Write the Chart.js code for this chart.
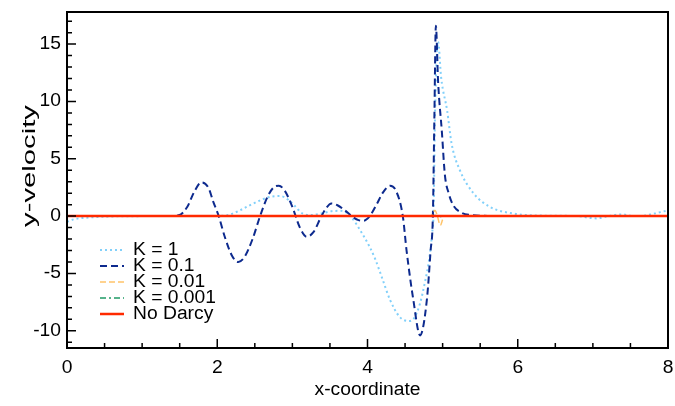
<!DOCTYPE html>
<html>
<head>
<meta charset="utf-8">
<script src="https://cdn.jsdelivr.net/npm/chart.js@4.4.0/dist/chart.umd.min.js"></script>
<style>
  html, body { margin: 0; padding: 0; background: #ffffff; }
  #wrap { width: 675px; height: 406px; }
</style>
</head>
<body>
<div id="wrap"><canvas id="c" width="675" height="406"></canvas></div>
<script>
// y-velocity profiles along the x-coordinate for each permeability K
const xK1 = [0, 0.1, 0.3, 0.6, 1.0, 2.0, 2.15, 2.3, 2.45, 2.6, 2.72, 2.84, 2.95, 3.03, 3.13, 3.25, 3.4, 3.55, 3.64, 3.72, 3.81, 3.9, 4.03, 4.1, 4.2, 4.3, 4.43, 4.55, 4.62, 4.7, 4.76, 4.82, 4.86, 4.88, 4.9, 4.94, 4.98, 5.06, 5.12, 5.23, 5.41, 5.63, 5.94, 6.3, 6.8, 6.95, 7.05, 7.2, 7.38, 7.55, 7.7, 7.8, 7.9, 8.0];
const yK1 = [-0.5, -0.26, -0.12, -0.03, 0, 0.02, 0.1, 0.5, 1.0, 1.45, 1.7, 1.75, 1.4, 0.9, 0.25, 0.1, 0.25, 0.45, 0.46, 0.3, -0.3, -1.2, -2.7, -3.7, -5.5, -7.3, -8.8, -9.15, -8.9, -7.6, -5.9, -3.8, -1.5, 0.5, 9.2, 15.2, 12.1, 9.2, 6.3, 4.0, 2.0, 0.8, 0.23, 0.05, 0, -0.15, -0.2, 0, 0.15, 0, 0.05, 0.2, 0.35, 0.5];

const xK01 = [0, 1.0, 1.4, 1.5, 1.6, 1.7, 1.79, 1.88, 1.95, 2.02, 2.1, 2.2, 2.28, 2.36, 2.47, 2.57, 2.67, 2.75, 2.82, 2.9, 3.0, 3.1, 3.19, 3.28, 3.38, 3.45, 3.52, 3.6, 3.7, 3.79, 3.88, 3.95, 4.03, 4.12, 4.2, 4.3, 4.38, 4.47, 4.52, 4.61, 4.7, 4.79, 4.84, 4.87, 4.89, 4.91, 4.94, 4.99, 5.03, 5.08, 5.14, 5.25, 5.37, 5.6, 6.0, 8.0];
const yK01 = [0, 0, 0.02, 0.1, 0.8, 2.2, 2.95, 2.5, 1.2, 0, -1.8, -3.5, -4.0, -3.6, -2.0, 0, 1.7, 2.5, 2.65, 2.2, 0.8, -1.0, -1.8, -1.4, -0.1, 0.7, 1.1, 0.95, 0.5, 0, -0.35, -0.4, 0, 1.0, 2.0, 2.65, 2.2, 0, -3.0, -7.3, -10.4, -7.3, -3.0, 0, 8.5, 16.6, 11.7, 7.35, 3.6, 2.0, 0.96, 0.3, 0.1, 0.02, 0, 0];

const xK001 = [0, 4.8, 4.85, 4.88, 4.9, 4.93, 4.97, 5.0, 5.02, 8.0];
const yK001 = [0, 0, 0.05, 0.4, 0.5, 0.0, -0.8, -0.3, 0, 0];

const xK0001 = [0, 4.85, 4.9, 4.95, 5.0, 8.0];
const yK0001 = [0, 0, 0.05, -0.05, 0, 0];

const xNoDarcy = [0, 8];
const yNoDarcy = [0, 0];

const seriesLabels = ['K = 1', 'K = 0.1', 'K = 0.01', 'K = 0.001', 'No Darcy'];

// axis ticks
const xMajorTicks = [0, 2, 4, 6, 8];
const xTickLabels = ['0', '2', '4', '6', '8'];
const xMinorTicks = [0.5, 1, 1.5, 2.5, 3, 3.5, 4.5, 5, 5.5, 6.5, 7, 7.5];
const yMajorTicks = [-10, -5, 0, 5, 10, 15];
const yTickLabels = ['-10', '-5', '0', '5', '10', '15'];
const yMinorTicks = [-11, -9, -8, -7, -6, -4, -3, -2, -1, 1, 2, 3, 4, 6, 7, 8, 9, 11, 12, 13, 14, 16, 17];

const xTitle = 'x-coordinate';
const yTitle = 'y-velocity';

const pts = (xs, ys) => xs.map((x, i) => ({ x: x, y: ys[i] }));

const FONT = '18px "Liberation Sans", Arial, Helvetica, sans-serif';
const SX = 1.07; // slight horizontal text stretch

function drawText(ctx, text, x, y, align) {
  ctx.save();
  ctx.translate(x, y);
  ctx.scale(SX, 1);
  ctx.textAlign = align;
  ctx.textBaseline = 'middle';
  ctx.fillText(text, 0, 0);
  ctx.restore();
}

const framePlugin = {
  id: 'frameTicks',
  afterDraw(chart) {
    const ctx = chart.ctx;
    const a = chart.chartArea;
    const xs = chart.scales.x;
    const ys = chart.scales.y;
    ctx.save();
    ctx.strokeStyle = '#000';
    ctx.fillStyle = '#000';
    // frame
    ctx.lineWidth = 2;
    ctx.strokeRect(a.left, a.top, a.right - a.left, a.bottom - a.top);
    // inward ticks
    ctx.lineWidth = 1.5;
    ctx.beginPath();
    xMajorTicks.forEach(v => { const p = xs.getPixelForValue(v); ctx.moveTo(p, a.bottom); ctx.lineTo(p, a.bottom - 9); });
    xMinorTicks.forEach(v => { const p = xs.getPixelForValue(v); ctx.moveTo(p, a.bottom); ctx.lineTo(p, a.bottom - 5); });
    yMajorTicks.forEach(v => { const p = ys.getPixelForValue(v); ctx.moveTo(a.left, p); ctx.lineTo(a.left + 9, p); });
    yMinorTicks.forEach(v => { const p = ys.getPixelForValue(v); ctx.moveTo(a.left, p); ctx.lineTo(a.left + 5, p); });
    ctx.stroke();
    // tick labels
    ctx.font = FONT;
    xMajorTicks.forEach((v, i) => drawText(ctx, xTickLabels[i], xs.getPixelForValue(v), a.bottom + 20, 'center'));
    yMajorTicks.forEach((v, i) => drawText(ctx, yTickLabels[i], a.left - 6, ys.getPixelForValue(v), 'right'));
    // axis titles
    drawText(ctx, xTitle, (a.left + a.right) / 2, a.bottom + 42, 'center');
    ctx.save();
    ctx.translate(30, 166);
    ctx.rotate(-Math.PI / 2);
    const w = ctx.measureText(yTitle).width;
    ctx.scale(122 / w, 1);
    ctx.textAlign = 'center';
    ctx.textBaseline = 'middle';
    ctx.fillText(yTitle, 0, 0);
    ctx.restore();
    // legend
    const lx0 = 100, lx1 = 124, tx = 133, ly0 = 250, dy = 16;
    chart.data.datasets.forEach(ds => {
      const row = seriesLabels.indexOf(ds.label);
      const y = ly0 + row * dy;
      ctx.save();
      ctx.strokeStyle = ds.borderColor;
      ctx.lineWidth = ds.borderWidth;
      ctx.setLineDash(ds.borderDash || []);
      ctx.beginPath();
      ctx.moveTo(lx0, y);
      ctx.lineTo(lx1, y);
      ctx.stroke();
      ctx.restore();
      ctx.fillStyle = '#000';
      drawText(ctx, ds.label, tx, y, 'left');
    });
    ctx.restore();
  }
};

const common = { pointRadius: 0, fill: false, cubicInterpolationMode: 'monotone' };

new Chart(document.getElementById('c'), {
  type: 'line',
  data: {
    datasets: [
      Object.assign({ label: seriesLabels[4], data: pts(xNoDarcy, yNoDarcy), borderColor: '#ff2a00', borderWidth: 2.5, order: 0 }, common),
      Object.assign({ label: seriesLabels[3], data: pts(xK0001, yK0001), borderColor: '#1f9a66', borderWidth: 1.5, borderDash: [6, 3, 2, 3], order: 1 }, common),
      Object.assign({ label: seriesLabels[2], data: pts(xK001, yK001), borderColor: '#ffc46a', borderWidth: 1.5, borderDash: [6, 3], order: 2 }, common),
      Object.assign({ label: seriesLabels[1], data: pts(xK01, yK01), borderColor: '#0d2a8e', borderWidth: 2, borderDash: [7, 4], order: 3 }, common),
      Object.assign({ label: seriesLabels[0], data: pts(xK1, yK1), borderColor: '#82d0fa', borderWidth: 2, borderDash: [2, 3], order: 4 }, common)
    ]
  },
  options: {
    responsive: false,
    animation: false,
    devicePixelRatio: 1,
    layout: { padding: { top: 12, right: 7, left: 0, bottom: 0 } },
    plugins: { legend: { display: false }, tooltip: { enabled: false } },
    scales: {
      x: {
        type: 'linear', min: 0, max: 8,
        grid: { display: false }, border: { display: false },
        ticks: { display: false },
        afterFit: s => { s.height = 58; }
      },
      y: {
        type: 'linear', min: -11.5, max: 17.8,
        grid: { display: false }, border: { display: false },
        ticks: { display: false },
        afterFit: s => { s.width = 67; }
      }
    }
  },
  plugins: [framePlugin]
});
</script>
</body>
</html>
